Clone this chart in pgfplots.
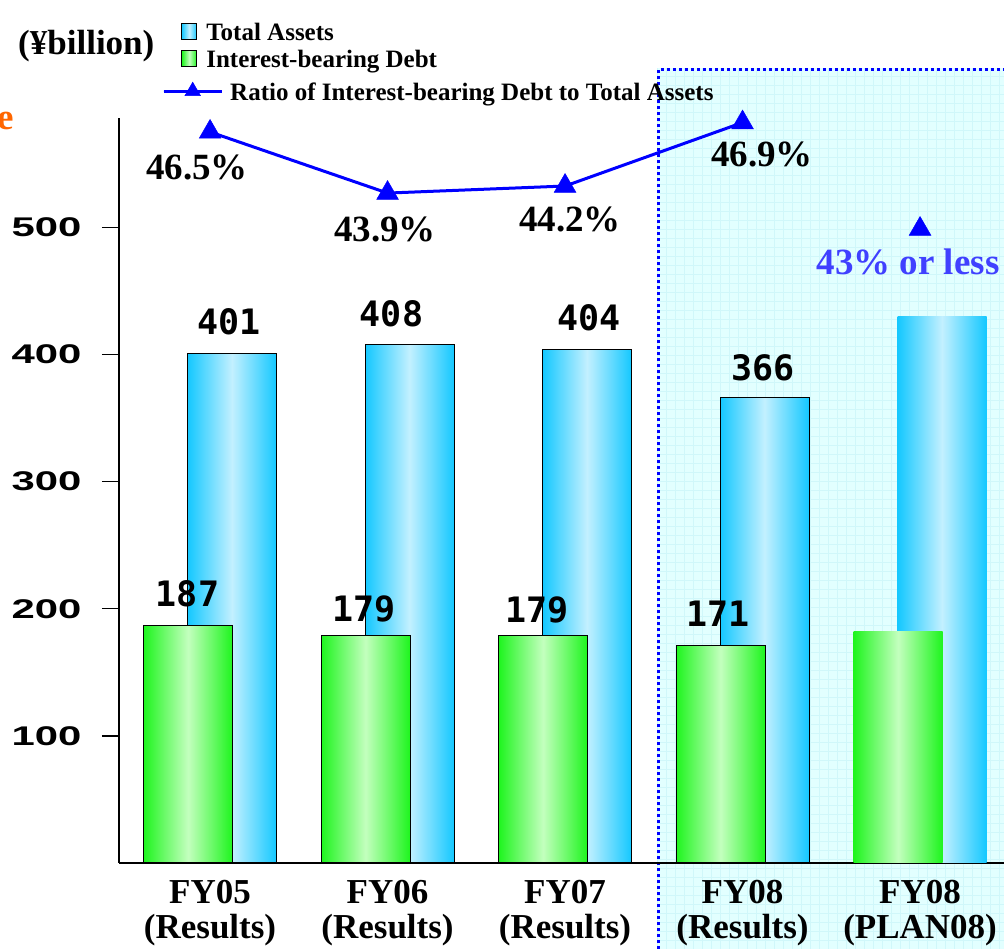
\documentclass[border=0pt]{standalone}
\usepackage{fontspec}
\setmainfont{Liberation Serif}
\newfontfamily\tickfont[FakeStretch=1.55]{Liberation Sans}
\newfontfamily\numfont{DejaVu Sans Mono}
\usepackage{pgfplots}
\pgfplotsset{compat=1.18}
\definecolor{bluedeep}{RGB}{20,200,255}
\definecolor{bluelight}{RGB}{195,240,255}
\definecolor{greendeep}{RGB}{30,245,30}
\definecolor{greenlight}{RGB}{195,255,190}
\definecolor{ratioblue}{RGB}{0,0,255}
\definecolor{planblue}{RGB}{64,64,255}
\definecolor{bgcyan}{RGB}{226,255,255}
\definecolor{bggrid}{RGB}{208,247,250}
\definecolor{orangeT}{RGB}{255,102,0}
\definecolor{legblue}{RGB}{160,225,250}
\definecolor{leggreen}{RGB}{150,240,150}
\pgfplotsset{
  bluebar/.style={ybar, bar width=89pt, bar shift=22pt,
    left color=bluedeep, right color=bluedeep, middle color=bluelight},
  greenbar/.style={ybar, bar width=89pt, bar shift=-22pt,
    left color=greendeep, right color=greendeep, middle color=greenlight},
}
\begin{document}
\begin{tikzpicture}[x=1pt,y=1pt]
\useasboundingbox (0,0) rectangle (1004,949);
\fill[bgcyan] (657,0) rectangle (1004,881);
\draw[bggrid, line width=0.5pt, step=9] (657,0) grid (1004,881);
\draw[ratioblue, line width=3pt, dash pattern=on 3pt off 3pt] (658.5,0) -- (658.5,879.5) -- (1004,879.5);

\begin{axis}[
  at={(119pt,86pt)}, anchor=south west, scale only axis,
  width=885pt, height=745pt,
  xmin=-0.513, xmax=4.473, ymin=0, ymax=586,
  axis x line*=bottom, axis y line*=left,
  axis line style={line width=1.5pt, -},
  xtick={0,1,2,3,4},
  xticklabels={{FY05\\(Results)},{FY06\\(Results)},{FY07\\(Results)},{FY08\\(Results)},{FY08\\(PLAN08)}},
  x tick style={draw=none},
  xticklabel style={align=center, font=\bfseries\fontsize{35}{35}\selectfont, inner sep=0pt, anchor=north, yshift=0pt},
  ytick={100,200,300,400,500},
  yticklabels={100,200,300,400,500},
  y tick style={line width=1.5pt, black},
  tick align=outside, major tick length=17pt,
  yticklabel style={font=\tickfont\bfseries\fontsize{27}{27}\selectfont, xshift=-17pt},
  clip=false,
  legend cell align=left,
  legend style={draw=none, fill=none, inner sep=0pt, row sep=3pt,
    at={(0.0701,1.1289)}, anchor=north west,
    font=\bfseries\fontsize{25}{27}\selectfont,
    nodes={inner sep=1pt, text height=17pt, text depth=5pt}},
]
\addplot[bluebar, draw=black, line width=1pt,
  legend image code/.code={\draw[black, line width=1.2pt, fill=legblue] (0pt,-5pt) rectangle (15pt,11pt); \path (23pt,0pt);}]
  coordinates {(0,401)};
\addlegendentry{Total Assets}
\addplot[bluebar, draw=black, line width=1pt, forget plot] coordinates {(1,408)};
\addplot[bluebar, draw=black, line width=1pt, forget plot] coordinates {(2,404)};
\addplot[bluebar, draw=black, line width=1pt, forget plot] coordinates {(3,366)};
\addplot[bluebar, draw=none, forget plot] coordinates {(4,430)};
\addplot[greenbar, draw=black, line width=1pt,
  legend image code/.code={\draw[black, line width=1.2pt, fill=leggreen] (0pt,-5pt) rectangle (15pt,11pt); \path (23pt,0pt);}]
  coordinates {(0,187)};
\addlegendentry{Interest-bearing Debt}
\addplot[greenbar, draw=black, line width=1pt, forget plot] coordinates {(1,179)};
\addplot[greenbar, draw=black, line width=1pt, forget plot] coordinates {(2,179)};
\addplot[greenbar, draw=black, line width=1pt, forget plot] coordinates {(3,171)};
\addplot[greenbar, draw=none, forget plot] coordinates {(4,182)};
\end{axis}

\begin{axis}[
  at={(119pt,86pt)}, anchor=south west, scale only axis,
  width=885pt, height=745pt,
  xmin=-0.513, xmax=4.473, ymin=15.39, ymax=47.096,
  hide axis, clip=false,
  legend cell align=left,
  legend style={draw=none, fill=none, inner sep=0pt,
    at={(0.0486,1.0483)}, anchor=north west,
    font=\bfseries\fontsize{25}{27}\selectfont,
    nodes={inner sep=1pt, text height=17pt, text depth=5pt}},
]
\addplot[ratioblue, line width=3pt, mark=triangle*, mark size=12.5pt,
  mark options={line width=0.5pt, solid},
  legend image code/.code={
    \draw[ratioblue, line width=3pt] (0pt,3.3pt) -- (58pt,3.3pt);
    \draw[ratioblue, fill=ratioblue, line width=0.5pt, mark size=9pt, mark repeat=2, mark phase=2]
      plot[mark=triangle*] coordinates {(0pt,3.3pt) (29pt,3.3pt) (58pt,3.3pt)};
    \path (64pt,0pt);}]
  coordinates {(0,46.5) (1,43.9) (2,44.2) (3,46.9)};
\addlegendentry{Ratio of Interest-bearing Debt to Total Assets}
\addplot[only marks, ratioblue, mark=triangle*, mark size=12.5pt,
  mark options={line width=0.5pt}, forget plot]
  coordinates {(4,42.37)};
\end{axis}

% annotations
\node[anchor=base west, font=\bfseries\fontsize{35}{36}\selectfont, inner sep=0pt] at (18,894) {(¥billion)};
\node[anchor=base east, font=\bfseries\fontsize{37}{38}\selectfont, text=orangeT, inner sep=0pt] at (14,819) {e};

\begin{scope}[every node/.style={anchor=base, inner sep=0pt, font=\numfont\bfseries\fontsize{35}{36}\selectfont}]
\node at (229,614) {401};
\node at (391.5,622) {408};
\node at (589,618) {404};
\node at (763,568) {366};
\node at (187.5,342) {187};
\node at (364,327) {179};
\node at (537,326) {179};
\node at (718,322) {171};
\end{scope}

\begin{scope}[every node/.style={anchor=base, inner sep=0pt, font=\bfseries\fontsize{37}{38}\selectfont}]
\node at (197,769) {46.5\%};
\node at (385,707) {43.9\%};
\node at (570,717) {44.2\%};
\node at (762,782) {46.9\%};
\node[text=planblue] at (908,674) {43\% or less};
\end{scope}
\end{tikzpicture}
\end{document}
